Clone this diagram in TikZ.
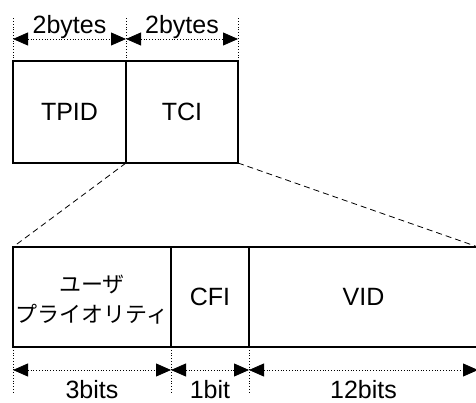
\documentclass[tikz,border=0pt]{standalone}
\usepackage{fontspec}
\setmainfont{Liberation Sans}
\newfontfamily\jpfont{Noto Sans CJK JP}
\usetikzlibrary{arrows.meta}

\begin{document}
\begin{tikzpicture}[x=1pt,y=1pt,yscale=-1,xscale=1,
  field/.style={draw,line width=1.2pt,inner sep=0pt,outer sep=0pt,anchor=north west,font=\fontsize{25}{30}\selectfont},
  dimline/.style={dotted,line width=0.8pt},
  dimarrow/.style={dotted,line width=0.8pt,{Triangle[length=15pt,width=13pt]}-{Triangle[length=15pt,width=13pt]}},
  dimlabel/.style={inner sep=0pt,anchor=base,font=\fontsize{25}{30}\selectfont},
  zoomline/.style={dashed,line width=0.8pt,dash pattern=on 6pt off 4pt}]
\useasboundingbox (0,0) rectangle (476,403);
\clip (0,0) rectangle (476,403);

% upper fields
\node [field,minimum width=113pt,minimum height=102pt] (tpid) at (13,61) {TPID};
\node [field,minimum width=112pt,minimum height=102pt] (tci) at (126,61) {TCI};

% lower fields
\node [field,minimum width=158pt,minimum height=100pt,align=center,text height=51pt,text depth=0pt,
  font=\jpfont\fontsize{22}{30}\selectfont] (user) at (13,247) {ユーザ\\プライオリティ};
\node [field,minimum width=78pt,minimum height=100pt] (cfi) at (171,247) {CFI};
\node [field,minimum width=229pt,minimum height=100pt] (vid) at (249,247) {VID};

% zoom
\draw [zoomline] (tci.south west) -- (user.north west);
\draw [zoomline] (tci.south east) -- (vid.north east);

% upper dimensions
\draw [dimline] (tpid.north west) -- ++(0,-44);
\draw [dimline] (tpid.north east) -- ++(0,-44);
\draw [dimline] (tci.north east) -- ++(0,-44);
\draw [dimarrow] ([yshift=-22pt]tpid.north west) -- ([yshift=-22pt]tpid.north east)
  node [dimlabel,midway,yshift=5pt] {2bytes};
\draw [dimarrow] ([yshift=-22pt]tci.north west) -- ([yshift=-22pt]tci.north east)
  node [dimlabel,midway,yshift=5pt] {2bytes};

% lower dimensions
\draw [dimline] (user.south west) -- ++(0,46);
\draw [dimline] (cfi.south west) -- ++(0,46);
\draw [dimline] (vid.south west) -- ++(0,46);
\draw [dimarrow] ([yshift=23pt]user.south west) -- ([yshift=23pt]user.south east)
  node [dimlabel,midway,yshift=-28.5pt] {3bits};
\draw [dimarrow] ([yshift=23pt]cfi.south west) -- ([yshift=23pt]cfi.south east)
  node [dimlabel,midway,yshift=-28.5pt] {1bit};
\draw [dimarrow] ([yshift=23pt]vid.south west) -- ([yshift=23pt]vid.south east)
  node [dimlabel,midway,yshift=-28.5pt] {12bits};

\end{tikzpicture}
\end{document}
